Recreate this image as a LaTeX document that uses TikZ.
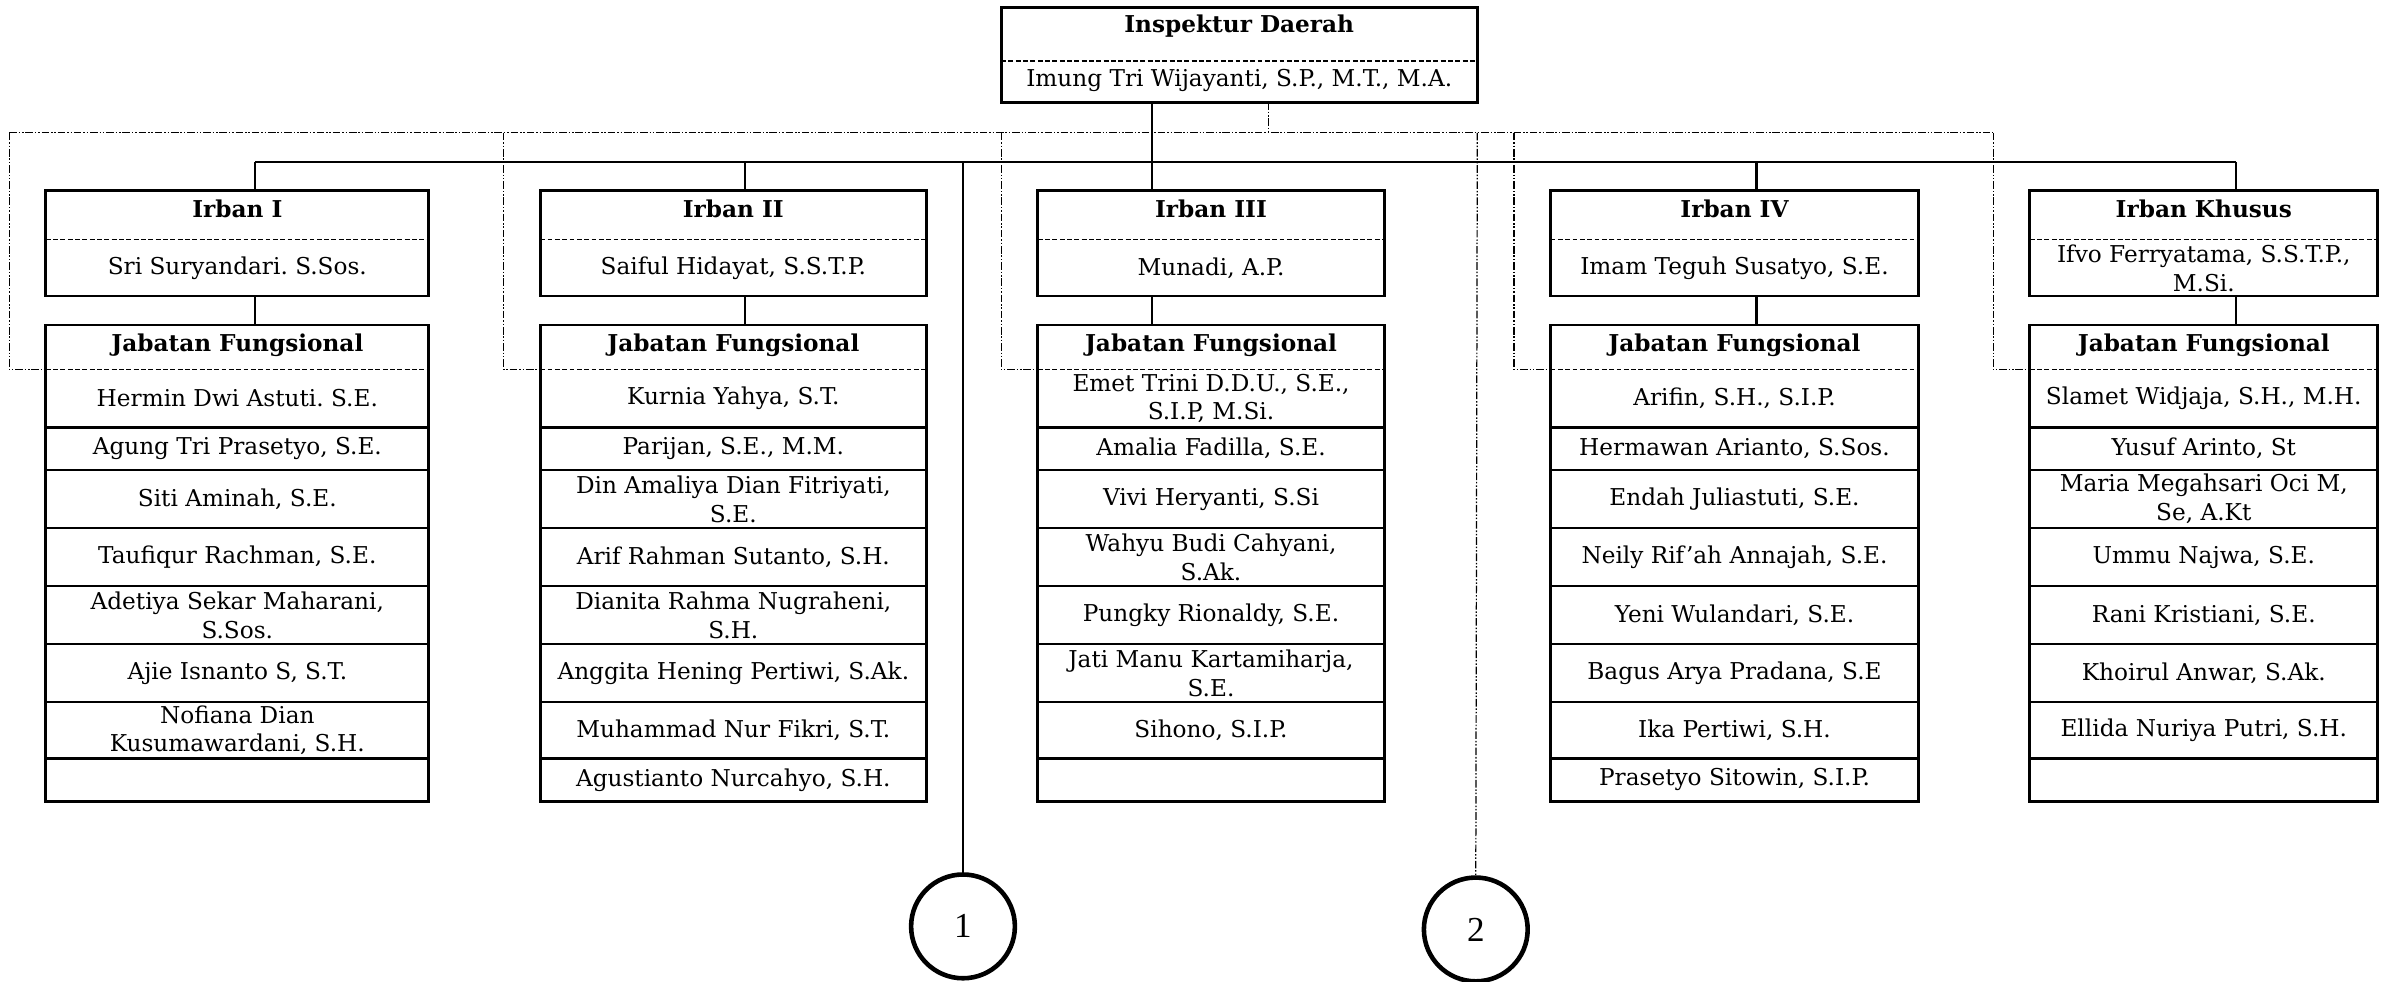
\documentclass[tikz,border=0pt]{standalone}
\usepackage{fontspec}
\setmainfont{DejaVu Serif}
\newfontfamily\digitfam{Liberation Serif}
\usetikzlibrary{shapes.geometric}
\frenchspacing
\newcommand\txtfont{\fontsize{7.6}{9.4}\selectfont}
\newcommand\digitfont{\digitfam\fontsize{11.5}{13}\selectfont}
\tikzset{
  box/.style={draw, line width=0.9pt, inner sep=0pt, outer sep=0pt},
  cell/.style={inner sep=0pt, outer sep=0pt, align=center, font=\txtfont},
  ttl/.style={font=\bfseries\txtfont, inner sep=0pt},
  txt/.style={font=\txtfont, align=center, inner sep=0pt},
  conn/.style={line width=0.8pt},
  rule/.style={line width=0.9pt},
  divider/.style={line width=0.45pt, dash pattern=on 1.6pt off 0.8pt},
  frame/.style={line width=0.4pt, dash pattern=on 2.5pt off 0.6pt on 0.5pt off 0.6pt on 0.5pt off 0.6pt},
  marker/.style={draw, circle, line width=1.5pt, minimum size=34pt, inner sep=0pt, font=\digitfont}
}
\newcommand\irban[6]{% id, L, R, X, title, name
  \node[box, anchor=north west, minimum width={(#3-#2)*0.5pt}, minimum height={69*0.5pt}] (#1ib) at (#2,125) {};
  \coordinate (#1dl) at (#2,157); \coordinate (#1dr) at (#3,157);
  \draw[divider] (#1dl) -- (#1dr);
  \node[ttl] (#1it) at ({(#2+#3)/2},137) {#5};
  \node[txt] (#1in) at ({(#2+#3)/2},176) {#6};
  \coordinate (#1bus) at (#4,106);
  \draw[conn] (#1bus) -- (#1ib.north -| #1bus);
}
\newcommand\jf[4]{% id, L, R, Dx
  \node[box, anchor=north west, minimum width={(#3-#2)*0.5pt}, minimum height={312*0.5pt}] (#1jf) at (#2,213) {};
  \draw[conn] (#1ib.south -| #1bus) -- (#1jf.north -| #1bus);
  \node[ttl] (#1jh) at ({(#2+#3)/2},226) {Jabatan Fungsional};
  \coordinate (#1sl) at (#2,242); \coordinate (#1sr) at (#3,242);
  \draw[divider] (#1sl) -- (#1sr);
  \coordinate (#1fr) at (#4,87);
  \draw[frame] (#1fr) |- (#1sl);
  \def\cL{#2}\def\cR{#3}%
}
\newcommand\cellrow[5]{% id, k, top, bottom, text
  \node[cell, anchor=north west, minimum width={(\cR-\cL)*0.5pt}, minimum height={(#4-#3)*0.5pt}] (#1r#2) at (\cL,#3) {#5};
}
\newcommand\rows[9]{%
  \cellrow{#1}{1}{242}{280}{#2}
  \cellrow{#1}{2}{280}{308}{#3}
  \cellrow{#1}{3}{308}{346}{#4}
  \cellrow{#1}{4}{346}{384}{#5}
  \cellrow{#1}{5}{384}{422}{#6}
  \cellrow{#1}{6}{422}{460}{#7}
  \cellrow{#1}{7}{460}{497}{#8}
  \cellrow{#1}{8}{497}{525}{#9}
  \draw[rule] (#1r1.south west) -- (#1r1.south east);
  \draw[rule] (#1r2.south west) -- (#1r2.south east);
  \draw[rule] (#1r3.south west) -- (#1r3.south east);
  \draw[rule] (#1r4.south west) -- (#1r4.south east);
  \draw[rule] (#1r5.south west) -- (#1r5.south east);
  \draw[rule] (#1r6.south west) -- (#1r6.south east);
  \draw[rule] (#1r7.south west) -- (#1r7.south east);
}
\begin{document}
\begin{tikzpicture}[x=0.5pt, y=-0.5pt]
\useasboundingbox (0,0) rectangle (1568,643);
% head
\node[box, anchor=north west, minimum width={312*0.5pt}, minimum height={62*0.5pt}] (top) at (656,5) {};
\coordinate (topdl) at (656,40); \coordinate (topdr) at (968,40);
\draw[divider] (topdl) -- (topdr);
\node[ttl] (topt) at (812,17) {Inspektur Daerah};
\node[txt] (topn) at (812,53) {Imung Tri Wijayanti, S.P., M.T., M.A.};
% dashed frame line
\coordinate (ffl) at (6,87); \coordinate (ffr) at (1306,87); \coordinate (fd) at (831,87);
\draw[frame] (ffl) -- (ffr);
\draw[frame] (top.south -| fd) -- (fd);
% Irban boxes
\irban{a}{30}{281}{167}{Irban I}{Sri Suryandari. S.Sos.}
\irban{b}{354}{607}{488}{Irban II}{Saiful Hidayat, S.S.T.P.}
\irban{c}{680}{907}{755}{Irban III}{Munadi, A.P.}
\irban{d}{1016}{1257}{1151}{Irban IV}{Imam Teguh Susatyo, S.E.}
\irban{e}{1330}{1558}{1465}{Irban Khusus}{Ifvo Ferryatama, S.S.T.P.,\\M.Si.}
\draw[conn] (abus) -- (ebus);
\draw[conn] (top.south -| cbus) -- (cbus);
% Jabatan Fungsional
\jf{a}{30}{281}{6}
\rows{a}{Hermin Dwi Astuti. S.E.}{Agung Tri Prasetyo, S.E.}{Siti Aminah, S.E.}{Taufiqur Rachman, S.E.}{Adetiya Sekar Maharani,\\S.Sos.}{Ajie Isnanto S, S.T.}{Nofiana Dian\\Kusumawardani, S.H.}{}
\jf{b}{354}{607}{330}
\rows{b}{Kurnia Yahya, S.T.}{Parijan, S.E., M.M.}{Din Amaliya Dian Fitriyati,\\S.E.}{Arif Rahman Sutanto, S.H.}{Dianita Rahma Nugraheni,\\S.H.}{Anggita Hening Pertiwi, S.Ak.}{Muhammad Nur Fikri, S.T.}{Agustianto Nurcahyo, S.H.}
\jf{c}{680}{907}{656}
\rows{c}{Emet Trini D.D.U., S.E.,\\S.I.P, M.Si.}{Amalia Fadilla, S.E.}{Vivi Heryanti, S.Si}{Wahyu Budi Cahyani,\\S.Ak.}{Pungky Rionaldy, S.E.}{Jati Manu Kartamiharja,\\S.E.}{Sihono, S.I.P.}{}
\jf{d}{1016}{1257}{992}
\rows{d}{Arifin, S.H., S.I.P.}{Hermawan Arianto, S.Sos.}{Endah Juliastuti, S.E.}{Neily Rif’ah Annajah, S.E.}{Yeni Wulandari, S.E.}{Bagus Arya Pradana, S.E}{Ika Pertiwi, S.H.}{Prasetyo Sitowin, S.I.P.}
\jf{e}{1330}{1558}{1306}
\rows{e}{Slamet Widjaja, S.H., M.H.}{Yusuf Arinto, St}{Maria Megahsari Oci M,\\Se, A.Kt}{Ummu Najwa, S.E.}{Rani Kristiani, S.E.}{Khoirul Anwar, S.Ak.}{Ellida Nuriya Putri, S.H.}{}
% off-page connectors
\coordinate (j1) at (631,106);
\node[marker] (m1) at (631,607) {1};
\draw[conn] (j1) -- (m1.north);
\coordinate (j2) at (968,87);
\node[marker] (m2) at (967,609) {2};
\draw[frame] (j2) -- (m2.north);
\end{tikzpicture}
\end{document}
